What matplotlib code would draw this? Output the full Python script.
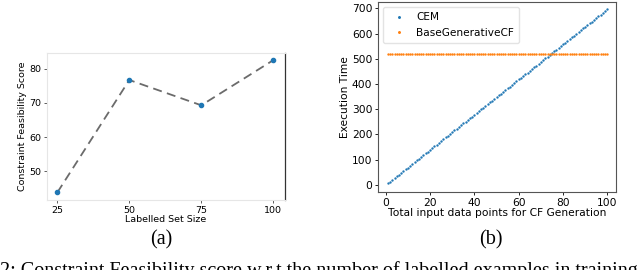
import numpy as np
import matplotlib as mpl
import matplotlib.pyplot as plt

# panel (a) data
set_size = [25, 50, 75, 100]
feas_score = [43.8, 76.7, 69.3, 82.5]

# panel (b) data
n_points = list(range(1, 101))
cem_time = [7, 13, 20, 27, 34, 41, 48, 55, 62, 69,
            76, 83, 90, 97, 104, 111, 118, 125, 132, 139,
            146, 153, 160, 167, 174, 181, 188, 195, 202, 209,
            216, 223, 230, 237, 244, 251, 257, 264, 271, 278,
            285, 292, 299, 306, 313, 320, 327, 334, 341, 348,
            355, 362, 369, 376, 383, 390, 397, 404, 411, 418,
            425, 432, 439, 445, 452, 459, 466, 473, 480, 487,
            494, 501, 508, 515, 522, 529, 536, 543, 550, 557,
            564, 571, 578, 585, 592, 599, 606, 613, 620, 627,
            634, 640, 647, 654, 661, 668, 675, 682, 689, 696]
base_time = [517, 517, 517, 517, 517, 517, 517, 517, 517, 517,
             517, 517, 517, 517, 517, 517, 517, 517, 517, 517,
             517, 517, 517, 517, 517, 517, 517, 517, 517, 517,
             518, 518, 518, 518, 518, 518, 518, 518, 518, 518,
             518, 518, 518, 518, 518, 518, 518, 518, 518, 518,
             518, 518, 518, 518, 518, 518, 518, 518, 518, 518,
             518, 518, 518, 518, 518, 518, 518, 518, 518, 518,
             519, 519, 519, 519, 519, 519, 519, 519, 519, 519,
             519, 519, 519, 519, 519, 519, 519, 519, 519, 519,
             519, 519, 519, 519, 519, 519, 519, 519, 519, 519]

fig = plt.figure(figsize=(6.4, 2.7), dpi=100)

# (a) constraint feasibility
ax1 = fig.add_axes([0.0734, 0.2593, 0.372, 0.5444])
ax1.plot(set_size, feas_score, '--', color='#6b6b6b', lw=1.3, dashes=(5, 3))
ax1.plot(set_size, feas_score, 'o', color='#1f77b4', ms=3)
ax1.set_xticks(set_size)
ax1.set_yticks([50, 60, 70, 80])
ax1.set_xlim(21.4, 104.1)
ax1.set_ylim(41.6, 84.6)
ax1.tick_params(labelsize=6.8, length=2.5, width=0.6, pad=1.5, color='#444444')
ax1.set_xlabel('Labelled Set Size', fontsize=6.8, labelpad=0)
ax1.set_ylabel('Constraint Feasibility Score', fontsize=6.8, labelpad=1.5)
for s in ['top', 'left', 'bottom']:
    ax1.spines[s].set_color('#e6e6e6')
    ax1.spines[s].set_linewidth(0.8)
ax1.spines['right'].set_color('#333333')
ax1.spines['right'].set_linewidth(0.9)

# (b) execution time
ax2 = fig.add_axes([0.5906, 0.2889, 0.3719, 0.7048])
ax2.plot(n_points, cem_time, '.', color='#1f77b4', ms=1.4, label='CEM')
ax2.plot(n_points, base_time, '.', color='#ff7f0e', ms=1.4, label='BaseGenerativeCF')
ax2.set_yticks([0, 100, 200, 300, 400, 500, 600, 700])
ax2.set_xticks([0, 20, 40, 60, 80, 100])
ax2.set_xlim(-3.5, 103.9)
ax2.set_ylim(-28, 726)
ax2.tick_params(labelsize=7.7, length=2.5, width=0.6, pad=1.5)
ax2.set_xlabel('Total input data points for CF Generation', fontsize=7.7, labelpad=0)
ax2.set_ylabel('Execution Time', fontsize=7.7, labelpad=1.5)
for s in ax2.spines.values():
    s.set_color('#555555')
    s.set_linewidth(0.8)
ax2.legend(loc='upper left', fontsize=7.6, markerscale=1.6, handletextpad=0.6,
           borderpad=0.5, labelspacing=0.5, frameon=True, fancybox=True,
           edgecolor='#dddddd', bbox_to_anchor=(0.0, 1.0))

# sub captions (the figure caption is cut at the bottom edge, as in the source)
fig.text(161 / 640, 1 - 240 / 270, '(a)', ha='center', va='center',
         family='Liberation Serif', fontsize=14.5)
fig.text(491 / 640, 1 - 240 / 270, '(b)', ha='center', va='center',
         family='Liberation Serif', fontsize=14.5)
fig.text(0 / 640, 1 - 261 / 270,
         '2: Constraint Feasibility score w.r.t the number of labelled examples in training and f',
         ha='left', va='top', family='Liberation Serif', fontsize=14.5)

fig.savefig('out.png', dpi=100)
